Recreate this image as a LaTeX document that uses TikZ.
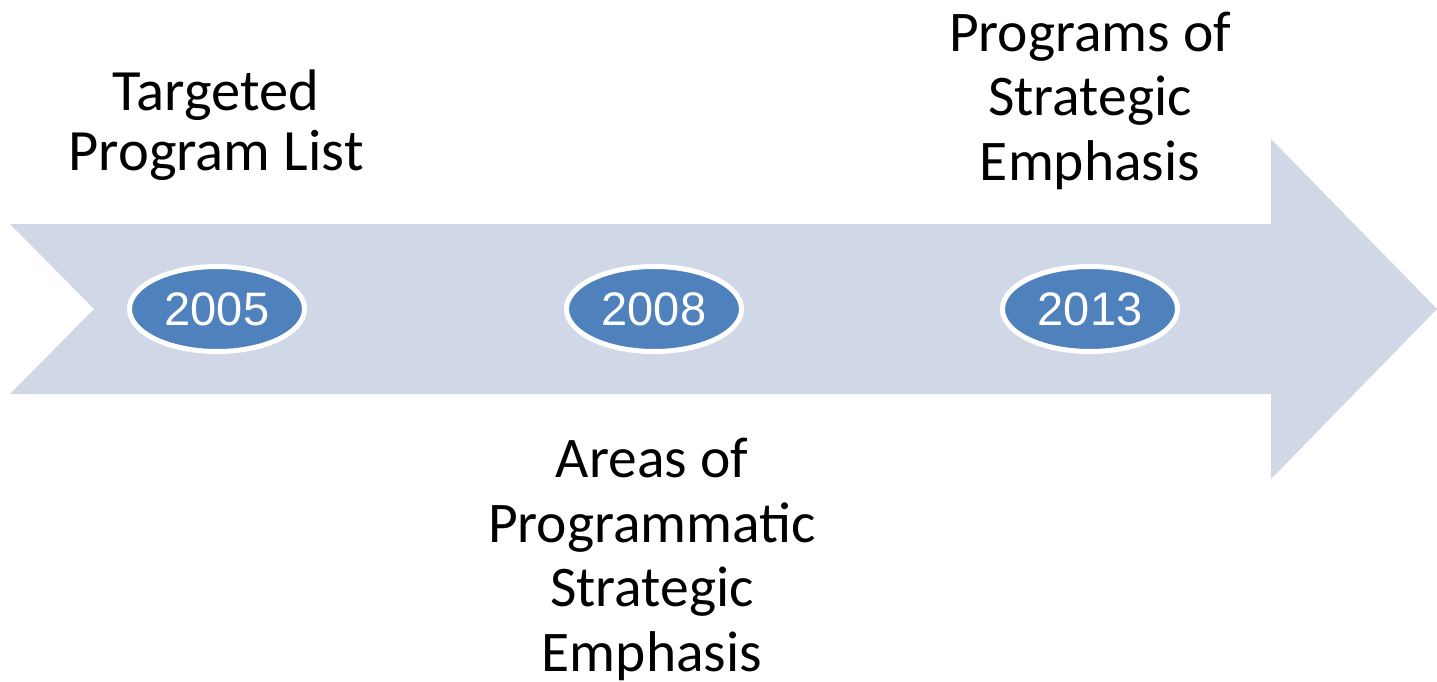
\documentclass[tikz,border=0pt]{standalone}
\usepackage{fontspec}
\setmainfont{Carlito}
\newfontfamily\arialfont{Liberation Sans}
\usetikzlibrary{shapes.geometric}
\definecolor{arrowfill}{HTML}{D0D8E8}
\definecolor{yearblue}{HTML}{4F81BD}
\tikzset{
  yearnode/.style={ellipse, fill=yearblue, draw=white, line width=5pt,
    minimum width=175pt, minimum height=85pt, inner sep=0pt,
    text=white, font=\arialfont\fontsize{47}{50}\selectfont},
  labelbig/.style={align=center, anchor=base, inner sep=0pt,
    font=\fontsize{57.5}{64.5}\selectfont},
  labelsmall/.style={align=center, anchor=base, inner sep=0pt,
    font=\fontsize{58.5}{60}\selectfont}
}
\begin{document}
\begin{tikzpicture}[x=1pt, y=-1pt]
\useasboundingbox (0,0) rectangle (1437,682);
\fill[arrowfill] (10,224) -- (1271,224) -- (1271,139) -- (1437,309) -- (1271,479)
  -- (1271,394) -- (10,394) -- (94,309) -- cycle;
\node[yearnode] (y2005) at (217,309) {2005};
\node[yearnode] (y2008) at (654,309) {2008};
\node[yearnode] (y2013) at (1090,309) {2013};
\node[labelsmall] (l2005) at (216,170) {Targeted\\Program List};
\node[labelbig] (l2008) at (652,671) {Areas of\\Programmatic\\Strategic\\Emphasis};
\node[labelbig] (l2013) at (1090,180) {Programs of\\Strategic\\Emphasis};
\end{tikzpicture}
\end{document}
